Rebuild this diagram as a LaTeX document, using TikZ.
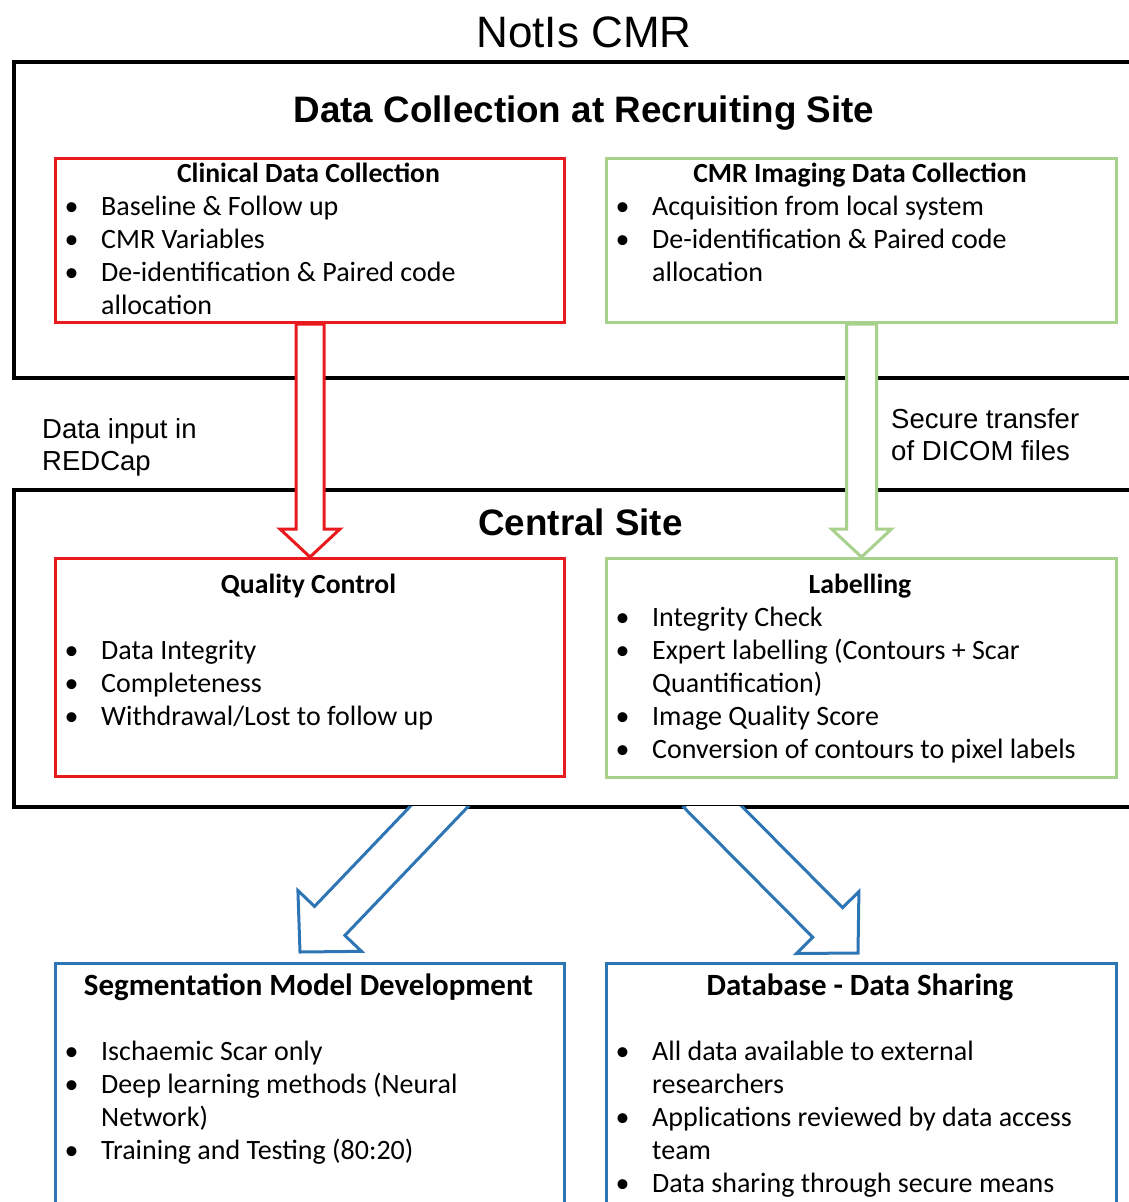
\documentclass[tikz,border=0pt]{standalone}
\usepackage{fontspec}
\setmainfont{Carlito}
\newfontfamily\arialfont{Liberation Sans}
\usetikzlibrary{calc}
\definecolor{ink}{RGB}{0,0,0}
\definecolor{clinical}{RGB}{232,26,30}
\definecolor{imaging}{RGB}{169,209,142}
\definecolor{release}{RGB}{46,117,182}
\newcommand{\bl}{\makebox[36.5pt][l]{\textbullet}}
\newcommand{\ind}{\hspace*{36.5pt}}
% block arrow: style, start, tip, shaft half width, head half width, head length
\newcommand{\blockarrow}[6]{%
  \coordinate (headbase) at ($(#3)!#6!(#2)$);
  \path[#1] ($(#2)!#4!90:(#3)$) -- ($(headbase)!#4!90:(#3)$) -- ($(headbase)!#5!90:(#3)$) -- (#3)
    -- ($(headbase)!#5!-90:(#3)$) -- ($(headbase)!#4!-90:(#3)$) -- ($(#2)!#4!-90:(#3)$) -- cycle;
}

\begin{document}
\begin{tikzpicture}[x=1pt,y=-1pt,line join=miter,
  site/.style={draw=ink,line width=3.5pt,inner sep=0pt,anchor=north west},
  panel/.style={draw=#1,line width=3pt,inner sep=0pt,anchor=north west},
  hollow/.style={fill=white,draw=#1,line width=3pt},
  heading/.style={font=\arialfont\fontsize{36.8}{40}\selectfont\bfseries,text=ink,inner sep=0pt,anchor=base},
  boxtitle/.style={font=\fontsize{27.7}{33}\selectfont\bfseries,text=ink,inner sep=0pt,anchor=base},
  bigtitle/.style={boxtitle,font=\fontsize{30.9}{33}\selectfont\bfseries},
  list/.style={font=\fontsize{28}{33}\selectfont,text=ink,inner sep=0pt,anchor=base west},
  note/.style={font=\arialfont\fontsize{27.5}{32}\selectfont,text=ink,inner sep=0pt,anchor=base west}]
\useasboundingbox (0,0) rectangle (1128,1202);
\node[font=\arialfont\fontsize{44}{48}\selectfont,text=ink,inner sep=0pt,anchor=base] (title) at (584,47) {NotIs CMR};
% site frames
\node[site,minimum width=1140pt,minimum height=316pt] (recruit) at (12,60) {};
\node[site,minimum width=1140pt,minimum height=317pt] (central) at (12,488) {};
% panels
\node[panel=clinical,minimum width=509pt,minimum height=164pt] (clin) at (54,157) {};
\node[panel=imaging,minimum width=510pt,minimum height=164pt] (cmr) at (605,157) {};
\node[panel=clinical,minimum width=509pt,minimum height=218pt] (qc) at (54,557) {};
\node[panel=imaging,minimum width=510pt,minimum height=219pt] (lab) at (605,557) {};
\node[panel=release,minimum width=509pt,minimum height=270pt] (seg) at (54,962) {};
\node[panel=release,minimum width=510pt,minimum height=270pt] (share) at (605,962) {};
% arrows
\blockarrow{hollow=clinical}{clin.south}{qc.north}{14pt}{30pt}{28pt}
\blockarrow{hollow=imaging}{cmr.south}{lab.north}{15pt}{30pt}{28pt}
\coordinate (segfrom) at (453,792);
\coordinate (segtip) at (300,952);
\coordinate (sharefrom) at (698.5,792.4);
\coordinate (sharetip) at (858,953);
\begin{scope}
\clip (0,806.5) rectangle (1128,1202);
\blockarrow{hollow=release}{segfrom}{segtip}{21pt}{44pt}{43pt}
\blockarrow{hollow=release}{sharefrom}{sharetip}{21pt}{44pt}{43pt}
\end{scope}
% texts
\node[heading] (recruittitle) at (584,122) {Data Collection at Recruiting Site};
\node[heading] (centraltitle) at (580.5,535) {Central Site};
\node[note] (redcap) at (42,438) {\begin{tabular}[t]{@{}l@{}}Data input in\\REDCap\end{tabular}};
\node[note] (dicom) at (891,428) {\begin{tabular}[t]{@{}l@{}}Secure transfer\\of DICOM files\end{tabular}};
\node[boxtitle] (clintitle) at (308.5,182) {Clinical Data Collection};
\node[list] (clinlist) at (64.5,215) {\begin{tabular}[t]{@{}l@{}}\bl Baseline \& Follow up\\ \bl CMR Variables\\ \bl De-identification \& Paired code\\ \ind allocation\end{tabular}};
\node[boxtitle] (cmrtitle) at (860,182) {CMR Imaging Data Collection};
\node[list] (cmrlist) at (615.5,215) {\begin{tabular}[t]{@{}l@{}}\bl Acquisition from local system\\ \bl De-identification \& Paired code\\ \ind allocation\end{tabular}};
\node[boxtitle] (qctitle) at (308.5,593) {Quality Control};
\node[list] (qclist) at (64.5,659) {\begin{tabular}[t]{@{}l@{}}\bl Data Integrity\\ \bl Completeness\\ \bl Withdrawal/Lost to follow up\end{tabular}};
\node[boxtitle] (labtitle) at (860,593) {Labelling};
\node[list] (lablist) at (615.5,626) {\begin{tabular}[t]{@{}l@{}}\bl Integrity Check\\ \bl Expert labelling (Contours + Scar\\ \ind Quantification)\\ \bl Image Quality Score\\ \bl Conversion of contours to pixel labels\end{tabular}};
\node[bigtitle] (segtitle) at (308.5,995) {Segmentation Model Development};
\node[list] (seglist) at (64.5,1060) {\begin{tabular}[t]{@{}l@{}}\bl Ischaemic Scar only\\ \bl Deep learning methods (Neural\\ \ind Network)\\ \bl Training and Testing (80:20)\end{tabular}};
\node[bigtitle] (sharetitle) at (860,995) {Database - Data Sharing};
\node[list] (sharelist) at (615.5,1060) {\begin{tabular}[t]{@{}l@{}}\bl All data available to external\\ \ind researchers\\ \bl Applications reviewed by data access\\ \ind team\\ \bl Data sharing through secure means\end{tabular}};
\end{tikzpicture}
\end{document}
